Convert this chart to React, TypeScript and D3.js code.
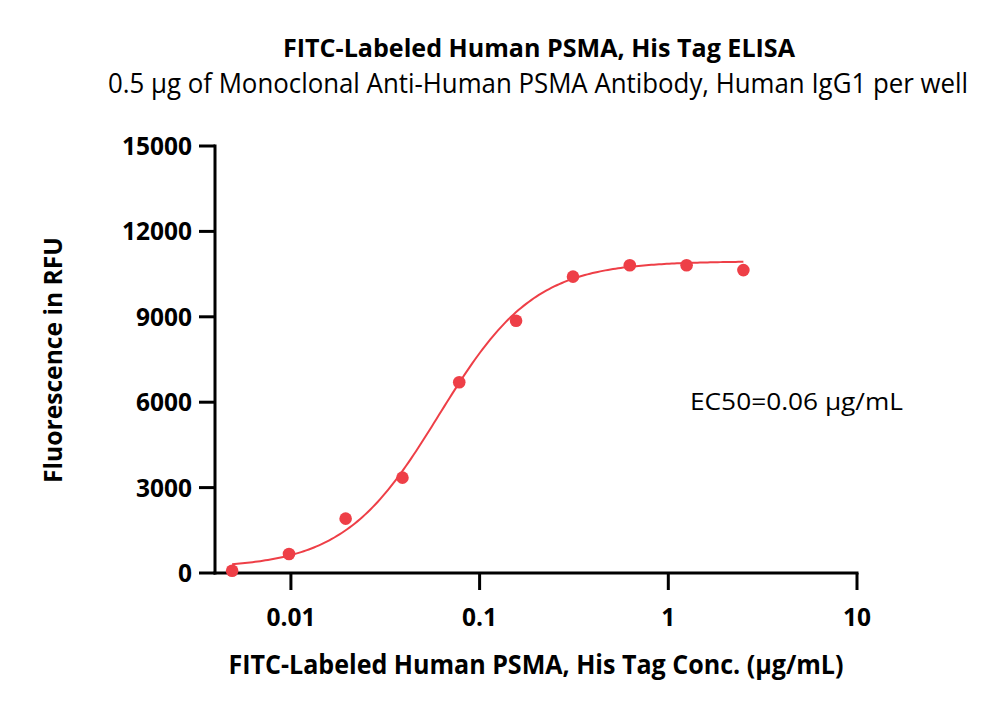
import React from "react";
import * as d3 from "d3";

const concentrations = [0.00488, 0.00977, 0.0195, 0.039, 0.078, 0.156, 0.3125, 0.625, 1.25, 2.5];
const rfuValues = [80, 670, 1910, 3350, 6700, 8860, 10410, 10810, 10810, 10640];
const yTicks = [0, 3000, 6000, 9000, 12000, 15000];
const xTicks = [0.01, 0.1, 1, 10];
const xTickLabels = ["0.01", "0.1", "1", "10"];
// 4PL fit parameters (bottom, top, EC50, hill)
const fitParams = { bottom: 170, top: 10950, ec50: 0.061, hill: 1.72 };

const title = "FITC-Labeled Human PSMA, His Tag ELISA";
const subtitle = "0.5 µg of Monoclonal Anti-Human PSMA Antibody, Human IgG1 per well";
const xTitle = "FITC-Labeled Human PSMA, His Tag Conc. (µg/mL)";
const yTitle = "Fluorescence in RFU";
const annotation = "EC50=0.06 µg/mL";

const RED = "#ee3f47";
const FONT = "'Open Sans', 'Liberation Sans', sans-serif";

export default function App() {
  const W = 1000, H = 713;
  const x = d3.scaleLog().domain([0.00396, 10]).range([215, 857]);
  const y = d3.scaleLinear().domain([0, 15000]).range([573, 146]);

  const fit = (c: number) =>
    fitParams.bottom + (fitParams.top - fitParams.bottom) / (1 + Math.pow(fitParams.ec50 / c, fitParams.hill));
  const lo = Math.log10(concentrations[0]);
  const hi = Math.log10(concentrations[concentrations.length - 1]);
  const curvePts: [number, number][] = d3.range(0, 201).map((i) => {
    const c = Math.pow(10, lo + ((hi - lo) * i) / 200);
    return [c, fit(c)];
  });
  const line = d3
    .line<[number, number]>()
    .x((d) => x(d[0]))
    .y((d) => y(d[1]))
    .curve(d3.curveLinear);

  return (
    <svg
      width={W}
      height={H}
      style={{ position: "absolute", left: 0, top: 0, background: "#fff" }}
      fontFamily={FONT}
    >
      <rect x={0} y={0} width={W} height={H} fill="#fff" />
      <text x={539} y={57} textAnchor="middle" fontWeight="bold" fontSize={25.5} textLength={512} lengthAdjust="spacingAndGlyphs">
        {title}
      </text>
      <text x={538} y={93} textAnchor="middle" fontSize={26.5} textLength={860} lengthAdjust="spacingAndGlyphs">
        {subtitle}
      </text>

      {/* axes */}
      <line x1={215} x2={215} y1={y(15000) - 1.5} y2={y(0) + 1.5} stroke="#000" strokeWidth={3} />
      <line x1={213.5} x2={x(10) + 1.5} y1={y(0)} y2={y(0)} stroke="#000" strokeWidth={3} />
      {yTicks.map((t) => (
        <g key={t}>
          <line x1={199} x2={215} y1={y(t)} y2={y(t)} stroke="#000" strokeWidth={3} />
          <text x={192} y={y(t) + 9} textAnchor="end" fontWeight="bold" fontSize={24.5}>
            {t}
          </text>
        </g>
      ))}
      {xTicks.map((t, i) => (
        <g key={t}>
          <line x1={x(t)} x2={x(t)} y1={y(0)} y2={590} stroke="#000" strokeWidth={3} />
          <text x={x(t)} y={626} textAnchor="middle" fontWeight="bold" fontSize={24.5}>
            {xTickLabels[i]}
          </text>
        </g>
      ))}
      <text x={536} y={674} textAnchor="middle" fontWeight="bold" fontSize={26} textLength={615} lengthAdjust="spacingAndGlyphs">
        {xTitle}
      </text>
      <text
        transform="translate(61.5,360) rotate(-90)"
        textAnchor="middle"
        fontWeight="bold"
        fontSize={25}
        textLength={246}
        lengthAdjust="spacingAndGlyphs"
      >
        {yTitle}
      </text>

      <path d={line(curvePts) || ""} fill="none" stroke={RED} strokeWidth={2} />
      {concentrations.map((c, i) => (
        <circle key={i} cx={x(c)} cy={y(rfuValues[i])} r={6.3} fill={RED} />
      ))}

      <text x={690} y={410} fontSize={23} textLength={213} lengthAdjust="spacingAndGlyphs">
        {annotation}
      </text>
    </svg>
  );
}
